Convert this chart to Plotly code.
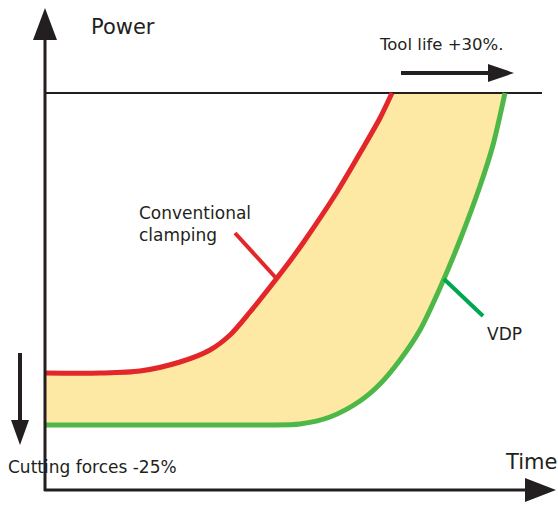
import plotly.graph_objects as go

# schematic coordinates (x = time, y = power, drawn in a 558x506 frame, y downward)
red_x = [45, 100, 140, 180, 210, 230, 250, 270, 290, 303, 337, 363, 380, 392]
red_y = [373, 373, 371, 362, 350, 335, 312, 287, 261, 243, 192, 148, 118, 93]
green_x = [45, 150, 250, 270, 300, 330, 360, 380, 400, 420, 440, 460, 480, 493, 505]
green_y = [425, 425, 425, 425, 424, 417, 401, 384, 360, 330, 288, 240, 186, 145, 93]
limit_y = 93

RED = "#e3262a"
GREEN = "#4db848"
POINTER_GREEN = "#00a650"
FILL = "#fde8a4"
INK = "#231f20"
FONT = "DejaVu Sans"


def main():
    fig = go.Figure()

    # yellow band between the two curves
    band_x = red_x + green_x[::-1]
    band_y = red_y + green_y[::-1]
    fig.add_trace(go.Scatter(x=band_x, y=band_y, fill="toself", fillcolor=FILL,
                             mode="none", hoverinfo="skip", showlegend=False))

    # top limit line
    fig.add_trace(go.Scatter(x=[45, 542], y=[limit_y, limit_y], mode="lines",
                             line=dict(color=INK, width=2), showlegend=False))

    fig.add_trace(go.Scatter(x=red_x, y=red_y, mode="lines", line_shape="spline",
                             line=dict(color=RED, width=5, smoothing=0.8), showlegend=False))
    fig.add_trace(go.Scatter(x=green_x, y=green_y, mode="lines", line_shape="spline",
                             line=dict(color=GREEN, width=5, smoothing=0.8), showlegend=False))

    # pointers to labels
    fig.add_trace(go.Scatter(x=[235, 276], y=[233, 278], mode="lines",
                             line=dict(color=RED, width=4), showlegend=False))
    fig.add_trace(go.Scatter(x=[444, 483], y=[279, 316], mode="lines",
                             line=dict(color=POINTER_GREEN, width=4), showlegend=False))

    shapes = [
        # axes
        dict(type="line", x0=45, y0=30, x1=45, y1=491, line=dict(color=INK, width=3)),
        dict(type="line", x0=44, y0=490, x1=530, y1=490, line=dict(color=INK, width=3)),
        dict(type="path", path="M 33 40 L 45 8 L 57 40 Z", fillcolor=INK, line=dict(width=0)),
        dict(type="path", path="M 525 478 L 556 490 L 525 502 Z", fillcolor=INK, line=dict(width=0)),
        # tool life arrow
        dict(type="line", x0=401, y0=73, x1=492, y1=73, line=dict(color=INK, width=4)),
        dict(type="path", path="M 488 64 L 514 73 L 488 82 Z", fillcolor=INK, line=dict(width=0)),
        # cutting forces arrow
        dict(type="line", x0=20, y0=353, x1=20, y1=425, line=dict(color=INK, width=4)),
        dict(type="path", path="M 11 420 L 20 445 L 29 420 Z", fillcolor=INK, line=dict(width=0)),
    ]
    for s in shapes:
        s.update(xref="x", yref="y", layer="above")

    texts = [
        ("Power", 89, 27, 21),
        ("Tool life +30%.", 377, 44, 16.5),
        ("Conventional<br>clamping", 137, 224, 17),
        ("VDP", 485, 334, 17),
        ("Cutting forces -25%", 6, 467, 17),
        ("Time", 503, 462, 21),
    ]
    annotations = [dict(text=t, x=x, y=y, xref="x", yref="y", xanchor="left", yanchor="middle",
                        align="left", showarrow=False, font=dict(family=FONT, size=s, color=INK))
                   for t, x, y, s in texts]

    fig.update_layout(width=558, height=506, margin=dict(l=0, r=0, t=0, b=0),
                      plot_bgcolor="white", paper_bgcolor="white",
                      shapes=shapes, annotations=annotations,
                      xaxis=dict(range=[0, 558], visible=False, fixedrange=True),
                      yaxis=dict(range=[506, 0], visible=False, fixedrange=True))
    fig.write_html("out.html", config={"displayModeBar": False},
                   post_script="document.body.style.margin='0';")


if __name__ == '__main__':
    main()
